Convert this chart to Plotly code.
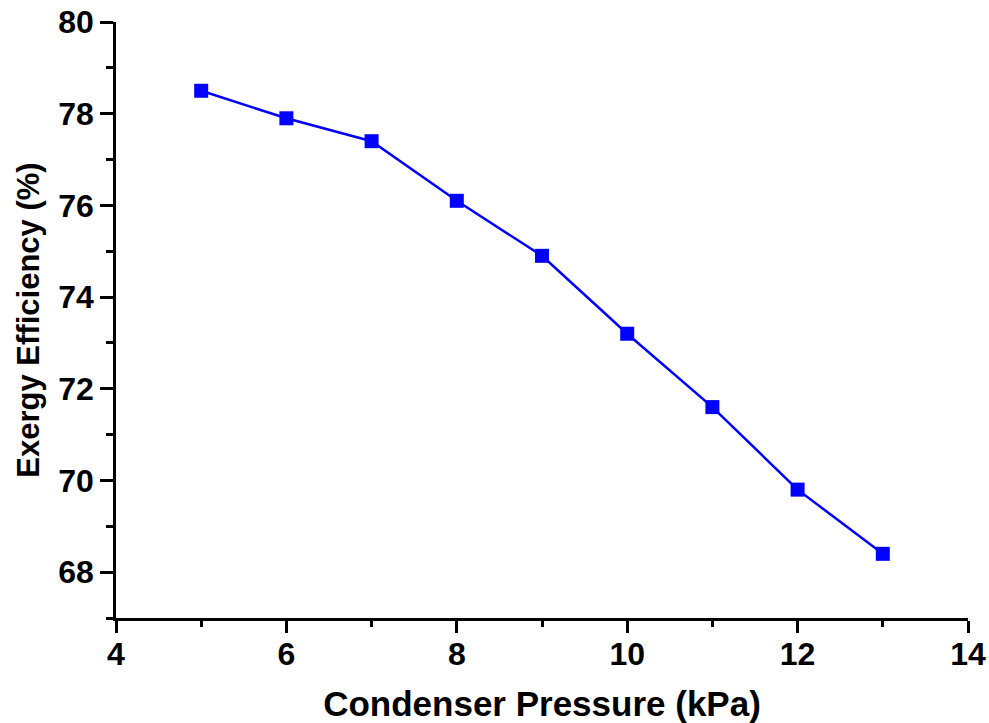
import plotly.graph_objects as go

pressure_kpa = [5, 6, 7, 8, 9, 10, 11, 12, 13]
exergy_eff = [78.5, 77.9, 77.4, 76.1, 74.9, 73.2, 71.6, 69.8, 68.4]
x_ticks = [4, 6, 8, 10, 12, 14]
y_ticks = [68, 70, 72, 74, 76, 78, 80]

fig = go.Figure()
fig.add_trace(go.Scatter(
    x=pressure_kpa, y=exergy_eff, mode="lines+markers",
    line=dict(color="#0000FF", width=2.5),
    marker=dict(symbol="square", size=14, color="#0000FF"),
    showlegend=False,
    cliponaxis=False,
))

fam = "Liberation Sans, Arial, sans-serif"
tick_font = dict(family=fam, size=32, color="black")
xtitle_font = dict(family=fam, size=35, color="black")
ytitle_font = dict(family=fam, size=31, color="black")
fig.update_layout(
    width=989, height=723,
    margin=dict(l=116, r=21, t=22, b=105),
    paper_bgcolor="white", plot_bgcolor="white",
    font=tick_font,
)
fig.update_xaxes(
    range=[4, 14], tickvals=x_ticks, ticktext=[f"<b>{v}</b>" for v in x_ticks],
    tickfont=tick_font, ticklabeloverflow="allow", ticklabelstandoff=-6,
    ticks="outside", ticklen=12, tickwidth=2.5, tickcolor="black",
    showline=True, linecolor="black", linewidth=2.5, showgrid=False, zeroline=False,
    minor=dict(dtick=1, tick0=4, ticks="outside", ticklen=6, tickwidth=2.5, tickcolor="black", showgrid=False),
    title=dict(text="<b>Condenser Pressure (kPa)</b>", font=xtitle_font, standoff=27),
    automargin=False,
)
fig.update_yaxes(
    range=[67, 80], tickvals=y_ticks, ticktext=[f"<b>{v}</b>" for v in y_ticks],
    tickfont=tick_font, ticklabeloverflow="allow", ticklabelstandoff=0,
    ticks="outside", ticklen=13, tickwidth=2.5, tickcolor="black",
    showline=True, linecolor="black", linewidth=2.5, showgrid=False, zeroline=False,
    minor=dict(dtick=1, tick0=67, ticks="outside", ticklen=7, tickwidth=2.5, tickcolor="black", showgrid=False),
    title=dict(text="<b>Exergy Efficiency (%)</b>", font=ytitle_font, standoff=10),
    automargin=False,
)
fig.write_html("out.html", config={"displayModeBar": False},
               post_script="document.body.style.margin='0';")
